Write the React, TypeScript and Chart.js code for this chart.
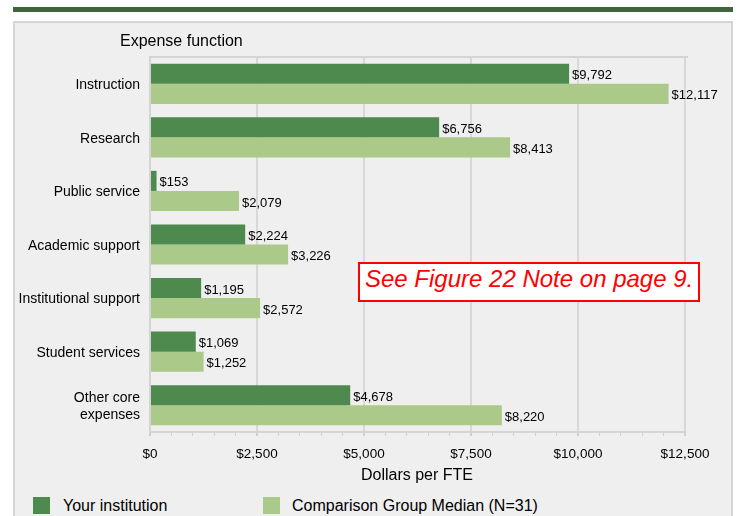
import React, { useEffect, useRef } from 'react';
import { Chart, registerables } from 'chart.js';

Chart.register(...registerables);

const categories: (string | string[])[] = [
  'Instruction',
  'Research',
  'Public service',
  'Academic support',
  'Institutional support',
  'Student services',
  ['Other core', 'expenses'],
];
const yourInstitution = [9792, 6756, 153, 2224, 1195, 1069, 4678];
const comparisonMedian = [12117, 8413, 2079, 3226, 2572, 1252, 8220];
const seriesNames = ['Your institution', 'Comparison Group Median (N=31)'];
const xMin = 0;
const xMax = 12500;
const xMinorStep = 500;
const xMajorStep = 2500;

const DARK = '#4e8a4d';
const LIGHT = '#abca8a';
const FONT = "'Liberation Sans', Arial, sans-serif";

const fmt = (v: number) => '$' + v.toLocaleString('en-US');

const labelPlugin = {
  id: 'valueLabels',
  afterDatasetsDraw(chart: any) {
    const ctx = chart.ctx;
    ctx.save();
    ctx.font = `13px ${FONT}`;
    ctx.fillStyle = '#000';
    ctx.textBaseline = 'middle';
    ctx.textAlign = 'left';
    chart.data.datasets.forEach((ds: any, i: number) => {
      const meta = chart.getDatasetMeta(i);
      meta.data.forEach((el: any, j: number) => {
        ctx.fillText(fmt(ds.data[j]), el.x + 3, el.y + 2);
      });
    });
    ctx.restore();
  },
};

const frameTopPlugin = {
  id: 'frameTop',
  beforeDatasetsDraw(chart: any) {
    const { ctx, chartArea } = chart;
    ctx.save();
    ctx.strokeStyle = '#d4d4d4';
    ctx.lineWidth = 2;
    ctx.beginPath();
    ctx.moveTo(chartArea.left - 1, chartArea.top);
    ctx.lineTo(chartArea.right + 3, chartArea.top);
    ctx.stroke();
    ctx.restore();
  },
};

export default function App() {
  const ref = useRef<HTMLCanvasElement>(null);
  useEffect(() => {
    if (!ref.current) return;
    const chart = new Chart(ref.current, {
      type: 'bar',
      data: {
        labels: categories as any,
        datasets: [
          { label: seriesNames[0], data: yourInstitution, backgroundColor: DARK, categoryPercentage: 0.75, barPercentage: 1.0 },
          { label: seriesNames[1], data: comparisonMedian, backgroundColor: LIGHT, categoryPercentage: 0.75, barPercentage: 1.0 },
        ],
      },
      options: {
        indexAxis: 'y',
        animation: false,
        responsive: false,
        devicePixelRatio: 1,
        layout: { padding: { left: 0, top: 57, right: 54, bottom: 0 } },
        plugins: { legend: { display: false }, tooltip: { enabled: false } },
        scales: {
          x: {
            type: 'linear',
            min: xMin,
            max: xMax,
            afterFit: (s: any) => { s.height = 56; },
            ticks: {
              stepSize: xMinorStep,
              autoSkip: false,
              maxRotation: 0,
              padding: 10,
              color: '#000',
              font: { family: FONT, size: 13.5 },
              callback: (v: any) => (Number(v) % xMajorStep === 0 ? fmt(Number(v)) : ''),
            },
            grid: {
              color: (c: any) => (c.tick && c.tick.value % xMajorStep === 0 ? '#d8d8d8' : 'rgba(0,0,0,0)'),
              lineWidth: (c: any) => (c.tick && c.tick.value % xMajorStep === 0 ? 2 : 1),
              tickColor: '#cfcfcf',
              tickLength: 4,
            },
            border: { display: true, color: '#d4d4d4', width: 2 },
          },
          y: {
            type: 'category',
            afterFit: (s: any) => { s.width = 150; },
            ticks: { color: '#000', padding: 2, labelOffset: 1.5, font: { family: FONT, size: 14 } },
            grid: { display: false },
            border: { display: true, color: '#d4d4d4', width: 2 },
          },
        },
      },
      plugins: [labelPlugin, frameTopPlugin],
    });
    return () => chart.destroy();
  }, []);

  const abs = (s: React.CSSProperties): React.CSSProperties => ({ position: 'absolute', ...s });

  return (
    <div style={abs({ left: 0, top: 0, width: 739, height: 516, overflow: 'hidden', fontFamily: FONT, background: '#fff' })}>
      <div style={abs({ left: 13, top: 7, width: 720, height: 5, background: '#3f663a' })} />
      <div style={abs({ left: 13, top: 21, width: 720, height: 467, boxSizing: 'border-box', border: '2px solid #d6d6d6', background: '#efefef' })} />
      <div style={abs({ left: 13, top: 486, width: 720, height: 40, boxSizing: 'border-box', borderLeft: '2px solid #d6d6d6', borderRight: '2px solid #d6d6d6', background: '#efefef' })} />
      <canvas ref={ref} width={739} height={488} style={abs({ left: 0, top: 0, width: 739, height: 488 })} />
      <div style={abs({ left: 120, top: 31, fontSize: 16, color: '#000', whiteSpace: 'nowrap', lineHeight: '20px' })}>Expense function</div>
      <div style={abs({ left: 317, width: 200, top: 466, fontSize: 16, color: '#000', textAlign: 'center', lineHeight: '18px' })}>Dollars per FTE</div>
      <div style={abs({ left: 358, top: 262, width: 342, height: 40, boxSizing: 'border-box', border: '2px solid #ff0000', background: '#fff' })}>
        <div style={{ position: 'absolute', left: 5, top: 1, fontSize: 24, fontStyle: 'italic', color: '#ff0000', whiteSpace: 'nowrap', lineHeight: '28px' }}>See Figure 22 Note on page 9.</div>
      </div>
      <div style={abs({ left: 33, top: 497, width: 17, height: 17, background: DARK })} />
      <div style={abs({ left: 63, top: 496, fontSize: 16, color: '#000', whiteSpace: 'nowrap', lineHeight: '19px' })}>{seriesNames[0]}</div>
      <div style={abs({ left: 263, top: 497, width: 17, height: 17, background: LIGHT })} />
      <div style={abs({ left: 292, top: 496, fontSize: 16, color: '#000', whiteSpace: 'nowrap', lineHeight: '19px' })}>{seriesNames[1]}</div>
    </div>
  );
}
